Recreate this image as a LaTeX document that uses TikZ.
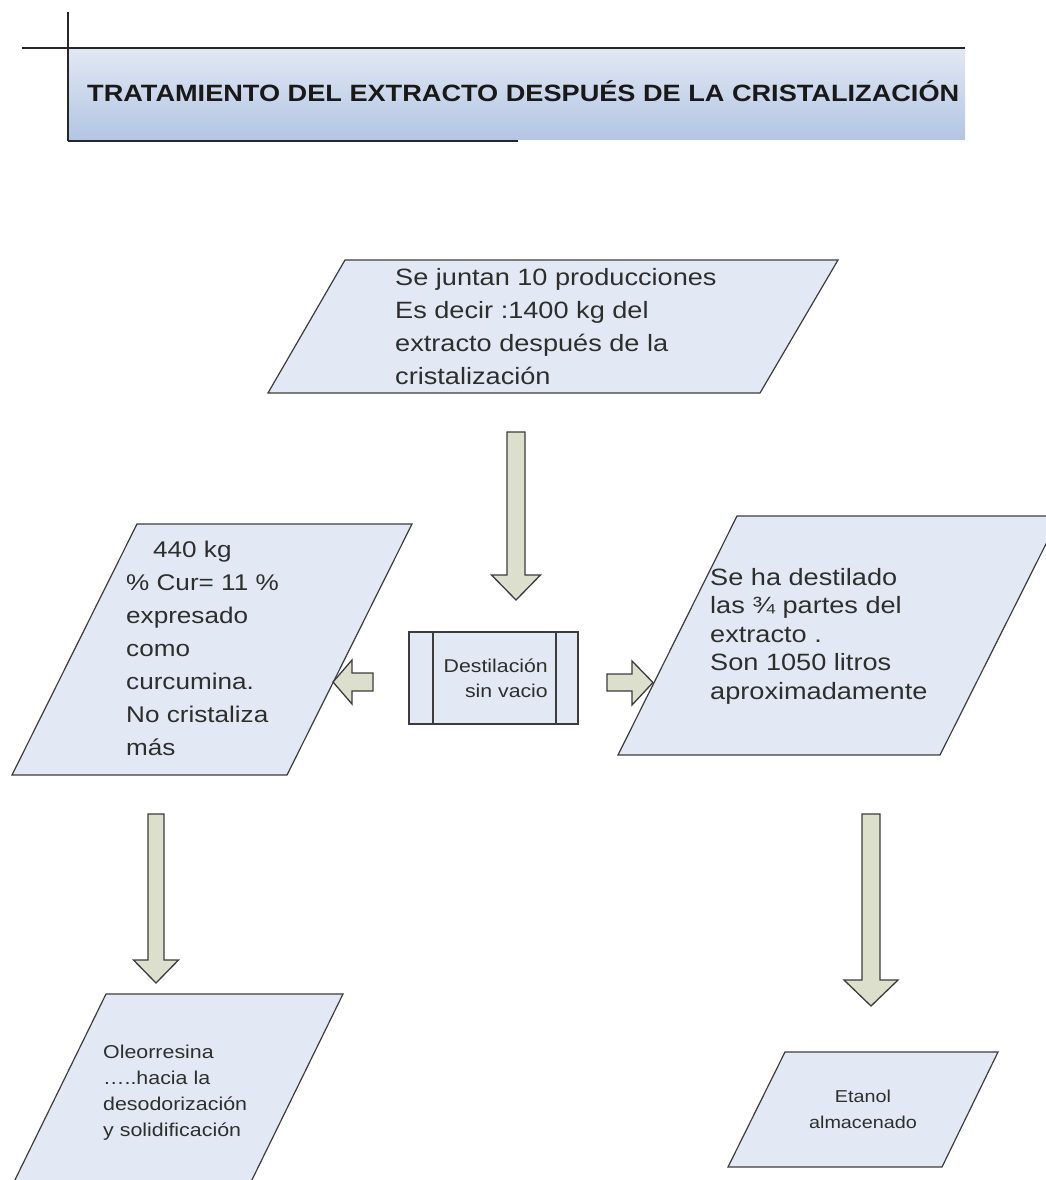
\documentclass[tikz,border=0pt]{standalone}
\usepackage{fontspec}
\setmainfont{Liberation Sans}[FakeStretch=1.15]
\definecolor{boxfill}{HTML}{E3E9F4}
\definecolor{boxline}{HTML}{3C3C3C}
\definecolor{arrowfill}{HTML}{DCDFCC}
\definecolor{inktext}{HTML}{2E2E2E}
\definecolor{bandtop}{HTML}{E2E8F3}
\definecolor{bandbottom}{HTML}{B2C5E3}
% vertical block arrow: centre x, top y, tip y, half shaft, half head, head length
\newcommand\blockdown[6]{%
  \draw[blockarrow] ({#1-#4},#2) -- ({#1+#4},#2) -- ({#1+#4},{#3-#6})
    -- ({#1+#5},{#3-#6}) -- (#1,#3) -- ({#1-#5},{#3-#6})
    -- ({#1-#4},{#3-#6}) -- cycle;}
\begin{document}
\begin{tikzpicture}[x=1pt,y=-1pt,
  shapeline/.style={draw=boxline, line width=1.2pt, fill=boxfill},
  blockarrow/.style={draw=boxline, line width=1.3pt, fill=arrowfill, line join=miter},
  % multi-line text nodes are placed by the baseline of their last line
  boxtext/.style={inner sep=0pt, anchor=base west, align=left, text=inktext},
  headrule/.style={draw=black!85, line width=1.8pt}]
\useasboundingbox (0,0) rectangle (1046,1180);
\clip (0,0) rectangle (1046,1180);

% title band
\shade[top color=bandtop, bottom color=bandbottom] (68,48) rectangle (965,140);
\draw[headrule] (68,12) -- (68,141);
\draw[headrule] (22,48) -- (965,48);
\draw[headrule] (68,141) -- (518,141);
\node[inner sep=0pt, anchor=base west, text=black!90,
      font=\bfseries\fontsize{23.6}{28}\selectfont] (title) at (87,102)
  {TRATAMIENTO DEL EXTRACTO DESPUÉS DE LA CRISTALIZACIÓN};

% input: ten batches joined
\draw[shapeline] (345,260) -- (838,260) -- (760,393) -- (268,393) -- cycle;
\node[boxtext, font=\fontsize{23.6}{33}\selectfont] (entrada) at (395,384)
  {Se juntan 10 producciones\\Es decir :1400 kg del\\extracto después de la\\cristalización};

% distillation step
\draw[shapeline] (409,632) rectangle (578,724);
\draw[draw=boxline, line width=1.2pt] (433,632) -- (433,724);
\draw[draw=boxline, line width=1.2pt] (556,632) -- (556,724);
\node[inner sep=0pt, anchor=base east, align=right, text=inktext,
      font=\fontsize{18.5}{25}\selectfont] (destila) at (548,697)
  {Destilación\\sin vacio};

% residue (left)
\draw[shapeline] (137,524) -- (412,524) -- (287,775) -- (12,775) -- cycle;
\node[boxtext, font=\fontsize{22.7}{33}\selectfont] (residuo) at (126,755)
  {\hspace*{27pt}440 kg\\\% Cur= 11 \%\\expresado\\como\\curcumina.\\No cristaliza\\más};

% distillate (right)
\draw[shapeline] (737,516) -- (1060,516) -- (940,755) -- (618,755) -- cycle;
\node[boxtext, font=\fontsize{23.6}{28.5}\selectfont] (destilado) at (710,699)
  {Se ha destilado\\las ¾ partes del\\extracto .\\Son 1050 litros\\aproximadamente};

% oleoresin (bottom left)
\draw[shapeline] (106,994) -- (343,994) -- (247,1190) -- (10,1190) -- cycle;
\node[boxtext, font=\fontsize{18.6}{25.7}\selectfont] (oleo) at (103,1136)
  {Oleorresina\\…..hacia la\\desodorización\\y solidificación};

% stored ethanol (bottom right)
\draw[shapeline] (785,1052) -- (998,1052) -- (942,1167) -- (728,1167) -- cycle;
\node[inner sep=0pt, anchor=base, align=center, text=inktext,
      font=\fontsize{17.2}{26}\selectfont] (etanol) at (863,1128)
  {Etanol\\almacenado};

% block arrows
\blockdown{516}{432}{600}{9}{24.5}{25}
\blockdown{156}{814}{983}{8}{22.5}{23}
\blockdown{871}{814}{1006}{9}{27}{26}
\draw[blockarrow] (373,673) -- (373,691) -- (352,691) -- (352,704)
  -- (333,682) -- (352,660) -- (352,673) -- cycle;
\draw[blockarrow] (607,674) -- (607,691) -- (632,691) -- (632,705)
  -- (653,682.5) -- (632,661) -- (632,674) -- cycle;
\end{tikzpicture}
\end{document}
